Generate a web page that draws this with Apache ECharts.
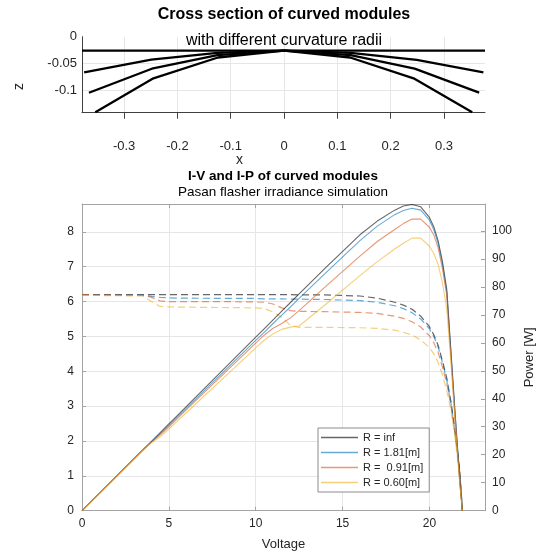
<!DOCTYPE html>
<html>
<head>
<meta charset="utf-8">
<script src="https://cdn.jsdelivr.net/npm/echarts@6/dist/echarts.min.js"></script>
<style>
  html, body { margin: 0; padding: 0; background: #ffffff; }
  #chart { width: 540px; height: 552px; }
</style>
</head>
<body>
<div id="chart"></div>
<script>
// ---- Cross sections of the faceted modules (x, z in metres) ----
const flatX = [-0.379, 0.377];
const flatZ = [-0.026, -0.026];
const r181X = [-0.375, -0.249, -0.125, 0, 0.125, 0.249, 0.374];
const r181Z = [-0.067, -0.043, -0.0305, -0.026, -0.0305, -0.0435, -0.067];
const r091X = [-0.366, -0.248, -0.125, 0, 0.125, 0.245, 0.366];
const r091Z = [-0.105, -0.060, -0.0345, -0.026, -0.0345, -0.060, -0.105];
const r060X = [-0.354, -0.245, -0.124, 0, 0.124, 0.243, 0.353];
const r060Z = [-0.1415, -0.078, -0.039, -0.026, -0.039, -0.078, -0.1415];

// ---- Flasher sweep: voltage [V], current [A], power [W] ----
const voltage = [0, 3.5, 4, 4.5, 5, 5.5, 6, 8, 10, 10.5, 11, 11.5, 12, 12.5, 14, 16, 17, 18, 18.5, 19, 19.5, 20, 20.25, 20.5, 20.75, 21, 21.25, 21.5, 21.75, 21.9];
const currentInf = [6.2, 6.2, 6.2, 6.2, 6.2, 6.2, 6.2, 6.2, 6.2, 6.2, 6.2, 6.2, 6.2, 6.19, 6.19, 6.16, 6.1, 5.98, 5.9, 5.78, 5.58, 5.28, 5.05, 4.75, 4.3, 3.8, 3.1, 2.2, 1.12, 0];
const current181 = [6.2, 6.19, 6.15, 6.12, 6.11, 6.1, 6.1, 6.09, 6.09, 6.08, 6.08, 6.08, 6.07, 6.07, 6.06, 6.03, 5.98, 5.88, 5.8, 5.68, 5.5, 5.22, 5.0, 4.7, 4.25, 3.75, 3.05, 2.15, 1.1, 0];
const current091 = [6.2, 6.18, 6.12, 6.02, 6.0, 6.0, 6.0, 6.0, 5.99, 5.98, 5.93, 5.82, 5.74, 5.72, 5.71, 5.69, 5.66, 5.58, 5.52, 5.42, 5.27, 5.02, 4.82, 4.55, 4.12, 3.65, 2.98, 2.1, 1.05, 0];
const current060 = [6.18, 6.16, 6.0, 5.86, 5.85, 5.84, 5.84, 5.83, 5.82, 5.8, 5.7, 5.55, 5.32, 5.26, 5.26, 5.25, 5.23, 5.18, 5.12, 5.04, 4.9, 4.68, 4.5, 4.25, 3.9, 3.45, 2.85, 2.0, 0.95, 0];
const powerInf = [0, 21.7, 24.8, 27.9, 31, 34.1, 37.2, 49.6, 62, 65.1, 68.2, 71.3, 74.4, 77.5, 86.7, 98.6, 103.5, 107.4, 108.9, 109.4, 108.6, 104.8, 101.5, 96.5, 89, 79, 56, 33, 11, 0];
const power181 = [0, 21.7, 24.6, 27.5, 30.5, 33.5, 36.6, 48.7, 60.9, 63.8, 66.9, 69.9, 72.8, 75.9, 84.8, 96.5, 101.7, 105.8, 107.3, 108.1, 107.4, 103.8, 100.5, 95.5, 88, 78, 55, 32, 10.5, 0];
const power091 = [0, 21.6, 24.5, 27.1, 30, 33, 36, 48, 59.9, 62.8, 65.2, 66.9, 68.9, 71.5, 80, 91, 96.2, 100.5, 102.6, 104.2, 104.2, 101.3, 98.5, 94, 86.5, 77, 54, 31, 10, 0];
const power060 = [0, 21.6, 24.3, 26.4, 29.2, 32.1, 35, 46.6, 58.2, 61, 63.2, 64.8, 65.6, 66, 73.6, 84, 89, 93.5, 95.6, 97.4, 97.4, 94.5, 92, 88, 81.5, 72, 52, 30, 9, 0];

const seriesNames = ['R = inf', 'R = 1.81[m]', 'R =  0.91[m]', 'R = 0.60[m]'];
const seriesColors = ['#000000', '#0072BD', '#D95319', '#EDB120'];

// ---- Tick positions ----
const xSectionTicks = [-0.3, -0.2, -0.1, 0, 0.1, 0.2, 0.3];
const zSectionTicks = [-0.1, -0.05, 0];
const voltageTicks = [0, 5, 10, 15, 20];
const currentTicks = [0, 1, 2, 3, 4, 5, 6, 7, 8];
const powerTicks = [0, 10, 20, 30, 40, 50, 60, 70, 80, 90, 100];

const FONT = '"Liberation Sans", Arial, Helvetica, sans-serif';
const zip = (a, b) => a.map((v, i) => [v, b[i]]);

const chart = echarts.init(document.getElementById('chart'), null, { renderer: 'canvas' });

const sectionSeries = [[flatX, flatZ], [r181X, r181Z], [r091X, r091Z], [r060X, r060Z]].map(([xs, zs]) => ({
  type: 'line',
  xAxisIndex: 0,
  yAxisIndex: 0,
  data: zip(xs, zs),
  symbol: 'none',
  lineStyle: { color: '#000000', width: 2.3 },
  silent: true,
  z: 3
}));

const powerData = [powerInf, power181, power091, power060];
const currentData = [currentInf, current181, current091, current060];

const powerSeries = powerData.map((p, i) => ({
  name: seriesNames[i],
  type: 'line',
  xAxisIndex: 1,
  yAxisIndex: 2,
  data: zip(voltage, p),
  symbol: 'none',
  color: seriesColors[i],
  lineStyle: { color: seriesColors[i], width: 1.1, opacity: 0.6 },
  z: 3
}));

const currentSeries = currentData.map((c, i) => ({
  name: seriesNames[i],
  type: 'line',
  xAxisIndex: 1,
  yAxisIndex: 1,
  data: zip(voltage, c),
  symbol: 'none',
  color: seriesColors[i],
  lineStyle: { color: seriesColors[i], width: 1.2, opacity: 0.6, type: [7, 4] },
  z: 2
}));

const gridColor = '#e6e6e6';
const axisGrey = '#a3a3a3';
const labelColor = '#262626';

chart.setOption({
  animation: false,
  backgroundColor: '#ffffff',
  textStyle: { fontFamily: FONT },
  title: [
    { text: 'Cross section of curved modules', left: 284, top: 7, textAlign: 'center', padding: 0,
      textStyle: { fontFamily: FONT, fontSize: 16, fontWeight: 'bold', color: '#000', lineHeight: 16 } },
    { text: 'with different curvature radii', left: 284, top: 33, textAlign: 'center', padding: 0,
      textStyle: { fontFamily: FONT, fontSize: 16, fontWeight: 'normal', color: '#000', lineHeight: 16 } },
    { text: 'I-V and I-P of curved modules', left: 283, top: 169, textAlign: 'center', padding: 0,
      textStyle: { fontFamily: FONT, fontSize: 13.5, fontWeight: 'bold', color: '#000', lineHeight: 14 } },
    { text: 'Pasan flasher irradiance simulation', left: 283, top: 185, textAlign: 'center', padding: 0,
      textStyle: { fontFamily: FONT, fontSize: 13.5, fontWeight: 'normal', color: '#000', lineHeight: 14 } }
  ],
  grid: [
    { left: 82, right: 55, top: 36.7, height: 76, containLabel: false, outerBoundsMode: 'none' },
    { left: 82, right: 55, top: 204, height: 306.7, containLabel: false, outerBoundsMode: 'none' }
  ],
  xAxis: [
    {
      type: 'value', gridIndex: 0, min: -0.379, max: 0.377,
      axisLine: { show: true, onZero: false, lineStyle: { color: '#404040', width: 1 } },
      axisTick: { show: true, inside: false, length: 6, customValues: xSectionTicks, lineStyle: { color: '#404040' } },
      axisLabel: { customValues: xSectionTicks, margin: 27, fontSize: 13, color: labelColor, fontFamily: FONT,
        formatter: v => String(v) },
      splitLine: { show: true, lineStyle: { color: gridColor, width: 1 } }
    },
    {
      type: 'value', gridIndex: 1, min: 0, max: 23.2, position: 'bottom',
      name: 'Voltage', nameLocation: 'middle', nameGap: 27,
      nameTextStyle: { fontSize: 13, color: labelColor, fontFamily: FONT },
      axisLine: { show: true, onZero: false, lineStyle: { color: axisGrey, width: 1 } },
      axisTick: { show: true, inside: true, length: 4, customValues: voltageTicks, lineStyle: { color: axisGrey } },
      axisLabel: { customValues: voltageTicks, margin: 7, fontSize: 12, color: labelColor, fontFamily: FONT },
      splitLine: { show: true, lineStyle: { color: gridColor, width: 1 } }
    },
    {
      type: 'value', gridIndex: 1, min: 0, max: 23.2, position: 'top',
      axisLine: { show: true, onZero: false, lineStyle: { color: axisGrey, width: 1 } },
      axisTick: { show: true, inside: true, length: 4, customValues: voltageTicks, lineStyle: { color: axisGrey } },
      axisLabel: { show: false },
      splitLine: { show: false }
    }
  ],
  yAxis: [
    {
      type: 'value', gridIndex: 0, min: -0.1425, max: 0,
      axisLine: { show: true, onZero: false, lineStyle: { color: '#404040', width: 1 } },
      axisTick: { show: false, customValues: zSectionTicks },
      axisLabel: { customValues: zSectionTicks, margin: 5, fontSize: 13, color: labelColor, fontFamily: FONT,
        formatter: v => String(v) },
      splitLine: { show: true, lineStyle: { color: [gridColor, gridColor, 'rgba(0,0,0,0)'], width: 1 } }
    },
    {
      type: 'value', gridIndex: 1, min: 0, max: 8.8, position: 'left',
      axisLine: { show: true, onZero: false, lineStyle: { color: axisGrey, width: 1 } },
      axisTick: { show: true, inside: true, length: 4, customValues: currentTicks, lineStyle: { color: axisGrey } },
      axisLabel: { customValues: currentTicks, margin: 8, fontSize: 12, color: labelColor, fontFamily: FONT },
      splitLine: { show: true, lineStyle: { color: gridColor, width: 1 } }
    },
    {
      type: 'value', gridIndex: 1, min: 0, max: 109.6, position: 'right',
      name: 'Power [W]', nameLocation: 'middle', nameGap: 33, nameRotate: 90,
      nameTextStyle: { fontSize: 13, color: labelColor, fontFamily: FONT },
      axisLine: { show: true, onZero: false, lineStyle: { color: axisGrey, width: 1 } },
      axisTick: { show: true, inside: true, length: 4, customValues: powerTicks, lineStyle: { color: axisGrey } },
      axisLabel: { customValues: powerTicks, margin: 7, fontSize: 12, color: labelColor, fontFamily: FONT },
      splitLine: { show: false }
    }
  ],
  legend: {
    data: seriesNames,
    orient: 'vertical',
    left: 318,
    top: 428,
    icon: 'rect',
    itemWidth: 37,
    itemHeight: 1.3,
    itemGap: 4,
    padding: [4, 6, 4, 3],
    backgroundColor: '#ffffff',
    borderColor: '#8c8c8c',
    borderWidth: 1,
    borderRadius: 0,
    selectedMode: false,
    itemStyle: { opacity: 0.6 },
    textStyle: { fontSize: 11, lineHeight: 11, color: labelColor, fontFamily: FONT }
  },
  graphic: [
    { type: 'text', left: 236, top: 153, style: { text: 'x', font: '14px ' + FONT, fill: labelColor } },
    { type: 'text', x: 12, y: 90, rotation: Math.PI / 2, style: { text: 'z', font: '14px ' + FONT, fill: labelColor } }
  ],
  series: [...sectionSeries, ...powerSeries, ...currentSeries]
});
</script>
</body>
</html>
